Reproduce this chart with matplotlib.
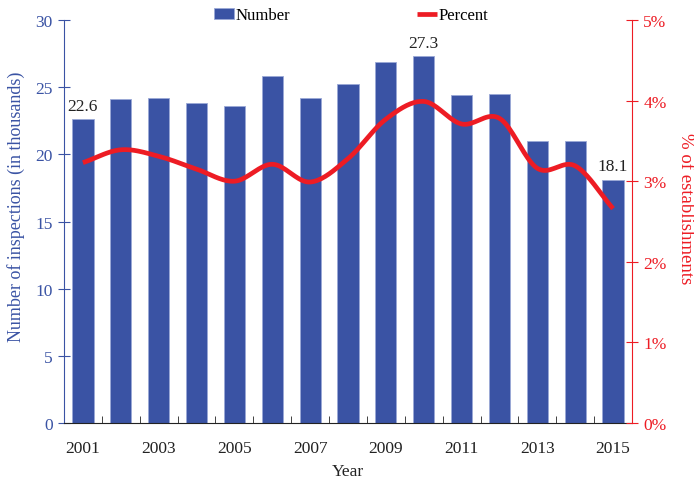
import numpy as np
import matplotlib.pyplot as plt
from matplotlib.ticker import FuncFormatter

plt.rcParams['font.family'] = ['Liberation Serif', 'DejaVu Serif']

# data
years = list(range(2001, 2016))
number = [22.6, 24.1, 24.2, 23.85, 23.6, 25.8, 24.2, 25.2, 26.9, 27.3, 24.4, 24.5, 21.0, 21.0, 18.1]
percent = [3.23, 3.39, 3.31, 3.15, 3.0, 3.21, 2.99, 3.28, 3.77, 3.99, 3.71, 3.78, 3.16, 3.19, 2.66]
labelled = {2001: '22.6', 2010: '27.3', 2015: '18.1'}

blue = '#3A53A4'
red = '#ED1C24'


def smooth(xs, ys, n=20):
    # Catmull-Rom style smoothing like a spreadsheet "smoothed line"
    xs = np.asarray(xs, float)
    ys = np.asarray(ys, float)
    px = np.concatenate([[2 * xs[0] - xs[1]], xs, [2 * xs[-1] - xs[-2]]])
    py = np.concatenate([[2 * ys[0] - ys[1]], ys, [2 * ys[-1] - ys[-2]]])
    ox, oy = [], []
    for i in range(1, len(px) - 2):
        t = np.linspace(0, 1, n, endpoint=False)
        for arr, out in ((px, ox), (py, oy)):
            p0, p1, p2, p3 = arr[i - 1], arr[i], arr[i + 1], arr[i + 2]
            out.extend(0.5 * (2 * p1 + (-p0 + p2) * t + (2 * p0 - 5 * p1 + 4 * p2 - p3) * t ** 2
                              + (-p0 + 3 * p1 - 3 * p2 + p3) * t ** 3))
    ox.append(xs[-1])
    oy.append(ys[-1])
    return np.array(ox), np.array(oy)


fig = plt.figure(figsize=(6.94, 4.81), dpi=100)
ax = fig.add_axes([0.0922, 0.1185, 0.8185, 0.8378])
x = np.arange(len(years))

bars = ax.bar(x, number, width=0.56, color=blue, edgecolor='#9aa8d6', linewidth=0.6, label='Number', zorder=2)
for i, yr in enumerate(years):
    if yr in labelled:
        ax.text(x[i], number[i] + 0.4, labelled[yr], ha='center', va='bottom', fontsize=12.5, color='#222222')

ax.set_xlim(-0.5, len(years) - 0.5)
ax.set_ylim(0, 30)
ax.set_yticks(range(0, 31, 5))
ax.set_xticks(x)
ax.set_xticklabels([str(y) if y % 2 == 1 else '' for y in years])
ax.set_xticks(np.arange(-0.5, len(years)), minor=True)
ax.tick_params(axis='x', which='major', length=0, labelsize=12.5, pad=12, colors='#222222')
ax.tick_params(axis='x', which='minor', direction='in', length=5, color='#222222')
ax.tick_params(axis='y', direction='inout', length=9, colors=blue, labelsize=12.5)
ax.set_xlabel('Year', fontsize=12.5, color='#222222', labelpad=5)
ax.set_ylabel('Number of inspections (in thousands)', fontsize=13, color=blue)
ax.yaxis.set_label_coords(-0.069, 0.54)

ax.spines['top'].set_visible(False)
ax.spines['right'].set_visible(False)
ax.spines['left'].set_color(blue)
ax.spines['bottom'].set_color('#222222')

ax2 = ax.twinx()
sx, sy = smooth(x, percent)
ax2.plot(sx, sy, color=red, linewidth=3.4, label='Percent', zorder=3, solid_capstyle='butt')
ax2.set_ylim(0, 5)
ax2.set_yticks(range(0, 6))
ax2.yaxis.set_major_formatter(FuncFormatter(lambda v, p: f'{int(v)}%'))
ax2.tick_params(axis='y', direction='inout', length=9, colors=red, labelsize=12.5)
ax2.set_ylabel('% of establishments', fontsize=13.5, color=red, rotation=270, va='center')
ax2.yaxis.set_label_coords(1.094, 0.535)
for s in ['top', 'left', 'bottom']:
    ax2.spines[s].set_visible(False)
ax2.spines['right'].set_color(red)

handles = [bars, ax2.get_lines()[0]]
fig.legend(handles, ['Number', 'Percent'], loc='center', bbox_to_anchor=(0.5065, 0.966), ncol=2,
           frameon=False, fontsize=12, columnspacing=7.6, handlelength=1.2, handletextpad=0.1,
           handleheight=0.7)

plt.savefig('out.png', dpi=100)
